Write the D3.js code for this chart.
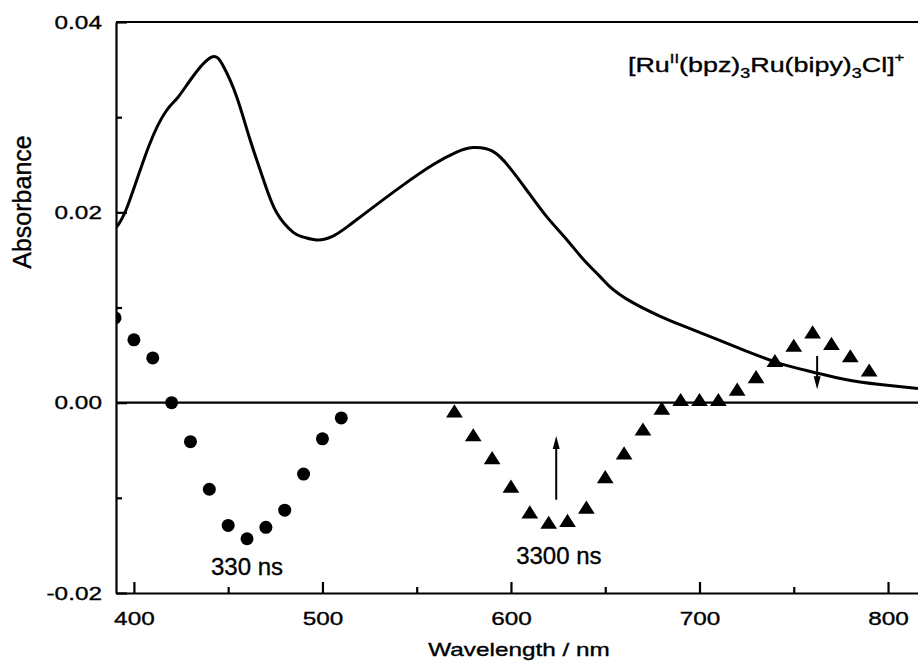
<!DOCTYPE html>
<html>
<head>
<meta charset="utf-8">
<script src="https://cdn.jsdelivr.net/npm/d3@7"></script>
<style>
  body { margin: 0; background: #fff; }
  text { font-family: Arial, "Liberation Sans", sans-serif; fill: #000; stroke: #000; stroke-width: 0.35px; }
</style>
</head>
<body>
<script>
// steady-state absorption spectrum (solid line)
const curveWl = [390.5, 396.7, 408, 417.3, 423.4, 431.4, 441.1, 447.3, 454.4, 461.5, 468.6, 475.6, 484.5, 490, 497, 505.6, 514, 523.3, 540.9, 558.6, 570.9, 579.8, 590.4, 599.3, 608.1, 618.7, 629.3, 638.2, 647, 652.4, 663, 678.9, 689.7, 707.4, 725.1, 742.8, 760.4, 778.1, 795.8, 815.9];
const curveAbs = [0.0184, 0.0207, 0.0270, 0.0307, 0.0321, 0.0343, 0.0363, 0.0354, 0.0322, 0.0277, 0.0235, 0.0200, 0.0179, 0.0174, 0.0171, 0.0175, 0.0186, 0.0200, 0.0226, 0.0250, 0.0263, 0.0268, 0.0264, 0.0247, 0.0224, 0.0196, 0.0172, 0.0151, 0.0133, 0.0122, 0.0107, 0.0091, 0.0082, 0.0068, 0.0054, 0.0041, 0.0032, 0.0024, 0.0019, 0.0015];

// transient difference spectrum at 330 ns (circles)
const circleWl = [390, 400, 410, 420, 430, 440, 450, 460, 470, 480, 490, 500, 510];
const circleAbs = [0.0089, 0.0066, 0.0047, 0.0000, -0.0041, -0.0091, -0.0129, -0.0143, -0.0131, -0.0113, -0.0075, -0.0038, -0.0016];

// transient difference spectrum at 3300 ns (triangles)
const triWl = [570, 580, 590, 600, 610, 620, 630, 640, 650, 660, 670, 680, 690, 700, 710, 720, 730, 740, 750, 760, 770, 780, 790];
const triAbs = [-0.0011, -0.0036, -0.0060, -0.0090, -0.0117, -0.0128, -0.0126, -0.0112, -0.0080, -0.0055, -0.0030, -0.0008, 0.0001, 0.0001, 0.0001, 0.0012, 0.0025, 0.0042, 0.0058, 0.0072, 0.0060, 0.0047, 0.0032];

// axes
const xMajor = [400, 500, 600, 700, 800];
const xMinor = [450, 550, 650, 750];
const yMajor = [-0.02, 0.00, 0.02, 0.04];
const yMinor = [-0.01, 0.01, 0.03];

// annotations
const labelText = ["330 ns", "3300 ns"];
const labelWl = [460, 625.4];
const labelAbs = [-0.0181, -0.0170];
const arrowWl = [624, 762.4];
const arrowFrom = [-0.0102, 0.0049];
const arrowTo = [-0.0035, 0.0014];

const width = 918, height = 663;
const m = { left: 116, right: 918, top: 22, bottom: 593 };
const stretch = 1.28;

const x = d3.scaleLinear().domain([390.5, 815.9]).range([m.left, m.right]);
const y = d3.scaleLinear().domain([-0.02, 0.04]).range([m.bottom, m.top]);

const svg = d3.select("body").append("svg")
    .attr("width", width)
    .attr("height", height);

svg.append("defs").append("clipPath").attr("id", "plot")
  .append("rect")
    .attr("x", m.left).attr("y", m.top)
    .attr("width", m.right - m.left).attr("height", m.bottom - m.top);

// zero line
svg.append("line")
    .attr("x1", m.left).attr("x2", m.right)
    .attr("y1", y(0)).attr("y2", y(0))
    .attr("stroke", "#000").attr("stroke-width", 2.2);

// top frame
svg.append("line")
    .attr("x1", m.left).attr("x2", m.right)
    .attr("y1", m.top).attr("y2", m.top)
    .attr("stroke", "#000").attr("stroke-width", 2.2);

// bottom axis
svg.append("g").attr("transform", `translate(0,${m.bottom})`)
    .call(d3.axisBottom(x).tickValues(xMajor).tickSizeInner(-11).tickSizeOuter(0).tickPadding(19).tickFormat(d3.format("d")));
svg.append("g").attr("transform", `translate(0,${m.bottom})`)
    .call(d3.axisBottom(x).tickValues(xMinor).tickSizeInner(-6).tickSizeOuter(0).tickFormat(""))
    .call(g => g.select(".domain").remove());

// left axis
svg.append("g").attr("transform", `translate(${m.left},0)`)
    .call(d3.axisLeft(y).tickValues(yMajor).tickSizeInner(-11).tickSizeOuter(0).tickPadding(11).tickFormat(d => d.toFixed(2)));
svg.append("g").attr("transform", `translate(${m.left},0)`)
    .call(d3.axisLeft(y).tickValues(yMinor).tickSizeInner(-6).tickSizeOuter(0).tickFormat(""))
    .call(g => g.select(".domain").remove());

svg.selectAll(".domain, .tick line").attr("stroke", "#000").attr("stroke-width", 2.2);
svg.selectAll(".tick text")
    .attr("font-size", 19)
    .attr("font-family", "Arial, 'Liberation Sans', sans-serif")
    .attr("transform", `scale(${stretch},1)`);

// axis titles
svg.append("text")
    .attr("transform", `translate(${(m.left + m.right) / 2 + 2},656) scale(${stretch},1)`)
    .attr("text-anchor", "middle")
    .attr("font-size", 19)
    .text("Wavelength / nm");

svg.append("text")
    .attr("transform", `translate(31,202) rotate(-90)`)
    .attr("text-anchor", "middle")
    .attr("font-size", 25)
    .text("Absorbance");

const plot = svg.append("g").attr("clip-path", "url(#plot)");

// absorption curve
const curvePts = curveWl.map((w, i) => [w, curveAbs[i]]);
plot.append("path")
    .datum(curvePts)
    .attr("fill", "none")
    .attr("stroke", "#000")
    .attr("stroke-width", 3)
    .attr("stroke-linejoin", "round")
    .attr("d", d3.line().x(d => x(d[0])).y(d => y(d[1])).curve(d3.curveNatural));

// circles
plot.selectAll("circle")
    .data(circleWl.map((w, i) => [w, circleAbs[i]]))
    .enter().append("circle")
    .attr("cx", d => x(d[0]))
    .attr("cy", d => y(d[1]))
    .attr("r", 6.5)
    .attr("fill", "#000");

// triangles
const tri = d3.symbol().type(d3.symbolTriangle).size(100);
plot.selectAll("path.tri")
    .data(triWl.map((w, i) => [w, triAbs[i]]))
    .enter().append("path")
    .attr("class", "tri")
    .attr("d", tri)
    .attr("transform", d => `translate(${x(d[0])},${y(d[1])}) scale(1.1,1)`)
    .attr("fill", "#000");

// arrows
arrowWl.forEach((w, i) => {
  const ax = x(w), y1 = y(arrowFrom[i]), y2 = y(arrowTo[i]);
  const dir = y2 < y1 ? 1 : -1;
  svg.append("line")
      .attr("x1", ax).attr("x2", ax)
      .attr("y1", y1).attr("y2", y2 + dir * 8)
      .attr("stroke", "#000").attr("stroke-width", 2);
  svg.append("path")
      .attr("d", `M${ax},${y2} L${ax - 3.5},${y2 + dir * 13} L${ax + 3.5},${y2 + dir * 13} Z`)
      .attr("fill", "#000");
});

// time labels
svg.selectAll("text.lbl")
    .data(labelText)
    .enter().append("text")
    .attr("class", "lbl")
    .attr("x", (d, i) => x(labelWl[i]))
    .attr("y", (d, i) => y(labelAbs[i]))
    .attr("text-anchor", "middle")
    .attr("font-size", 24)
    .text(d => d);

// compound label
const comp = svg.append("text")
    .attr("transform", `translate(628,72) scale(${stretch},1)`)
    .attr("font-size", 21);
comp.append("tspan").text("[Ru");
comp.append("tspan").attr("font-size", 13).attr("dy", -9).text("II");
comp.append("tspan").attr("dy", 9).text("(bpz)");
comp.append("tspan").attr("font-size", 14).attr("dy", 6).text("3");
comp.append("tspan").attr("dy", -6).text("Ru(bipy)");
comp.append("tspan").attr("font-size", 14).attr("dy", 6).text("3");
comp.append("tspan").attr("dy", -6).text("Cl]");
comp.append("tspan").attr("font-size", 13).attr("dy", -10).text("+");
</script>
</body>
</html>
